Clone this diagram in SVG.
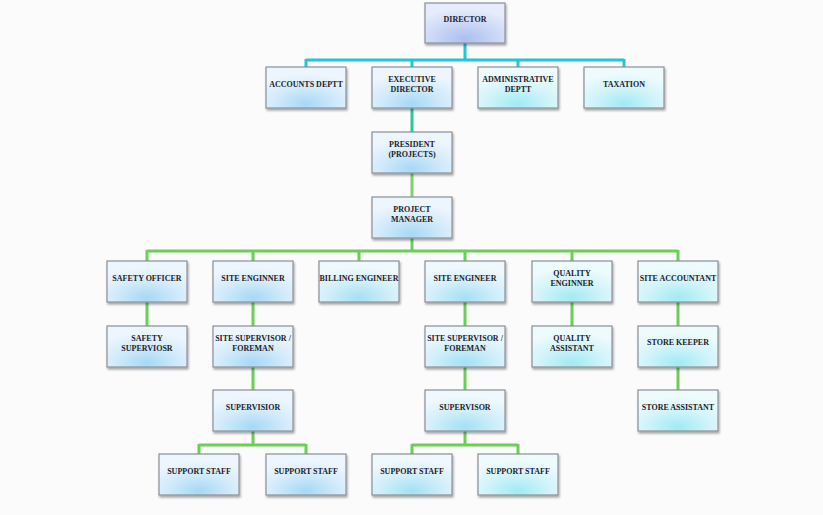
<svg xmlns="http://www.w3.org/2000/svg" width="823" height="515" viewBox="0 0 823 515">
<defs>
<radialGradient id="gBlue" cx="50%" cy="90%" r="75%" fx="50%" fy="90%">
<stop offset="0" stop-color="#a6d8f6"/>
<stop offset="0.55" stop-color="#d3ebfb"/>
<stop offset="1" stop-color="#eef6fd"/>
</radialGradient>
<radialGradient id="gCyan" cx="50%" cy="90%" r="75%" fx="50%" fy="90%">
<stop offset="0" stop-color="#a2eaf4"/>
<stop offset="0.55" stop-color="#d2f4fa"/>
<stop offset="1" stop-color="#eefbfd"/>
</radialGradient>
<radialGradient id="gMid" cx="50%" cy="90%" r="75%" fx="50%" fy="90%">
<stop offset="0" stop-color="#a4e0f5"/>
<stop offset="0.55" stop-color="#d2effa"/>
<stop offset="1" stop-color="#eef8fd"/>
</radialGradient>
<radialGradient id="gLav" cx="50%" cy="90%" r="75%" fx="50%" fy="90%">
<stop offset="0" stop-color="#a9c0f0"/>
<stop offset="0.55" stop-color="#ccd8f6"/>
<stop offset="1" stop-color="#e6ecfb"/>
</radialGradient>
<filter id="sh" x="-10%" y="-10%" width="130%" height="140%">
<feDropShadow dx="1" dy="2" stdDeviation="1.2" flood-color="#000" flood-opacity="0.35"/>
</filter>
</defs>
<style>
.n rect{stroke:#8a8f96;stroke-width:1.2;filter:url(#sh)}
.b rect{fill:url(#gBlue)}
.c rect{fill:url(#gCyan)}
.m rect{fill:url(#gMid)}
.l rect{fill:url(#gLav)}
.n text{font-family:"Liberation Serif","Times New Roman",serif;font-weight:bold;font-size:8px;fill:#1c1c2c;text-anchor:middle}
.cn path{fill:none;stroke-width:3}
.cy{stroke:#1fc8d4}
.tg{stroke:#2cc894}
.lg{stroke:#80d070}
.gr{stroke:#6ccd58}
</style>
<rect width="823" height="515" fill="#fbfbfb"/>
<g id="connectors" class="cn">
<path class="cy" d="M465,43V60M306,60H624M306,59V67M412,59V67M518,59V67M624,59V67"/>
<path class="tg" d="M412,108V132"/>
<path class="lg" d="M412,173V197"/>
<path class="gr" d="M412,238V251M147,251H678M147,250V261M253,250V261M359,250V261M465,250V261M572,250V261M678,250V261"/>
<path class="gr" d="M147,302V326M253,302V326M465,302V326M572,302V326M678,302V326"/>
<path class="gr" d="M253,367V390M465,367V390M678,367V390"/>
<path class="gr" d="M253,431V445M199,445H306M199,444V454M306,444V454"/>
<path class="gr" d="M465,431V445M412,445H518M412,444V454M518,444V454"/>
</g>
<g id="director" class="n l"><rect x="425" y="3" width="80" height="40"/><text x="465" y="22">DIRECTOR</text></g>
<g id="accounts" class="n b"><rect x="266" y="67" width="80" height="41"/><text x="306" y="87">ACCOUNTS DEPTT</text></g>
<g id="exec-director" class="n b"><rect x="372" y="67" width="80" height="41"/><text x="412" y="82">EXECUTIVE</text><text x="412" y="92">DIRECTOR</text></g>
<g id="admin" class="n c"><rect x="478" y="67" width="80" height="41"/><text x="518" y="82">ADMINISTRATIVE</text><text x="518" y="92">DEPTT</text></g>
<g id="taxation" class="n c"><rect x="584" y="67" width="80" height="41"/><text x="624" y="87">TAXATION</text></g>
<g id="president" class="n b"><rect x="372" y="132" width="80" height="41"/><text x="412" y="147">PRESIDENT</text><text x="412" y="157">(PROJECTS)</text></g>
<g id="project-manager" class="n b"><rect x="372" y="197" width="80" height="41"/><text x="412" y="212">PROJECT</text><text x="412" y="222">MANAGER</text></g>
<g id="safety-officer" class="n b"><rect x="107" y="261" width="80" height="41"/><text x="147" y="281">SAFETY OFFICER</text></g>
<g id="site-enginner" class="n b"><rect x="213" y="261" width="80" height="41"/><text x="253" y="281">SITE ENGINNER</text></g>
<g id="billing-engineer" class="n m"><rect x="319" y="261" width="80" height="41"/><text x="359" y="281">BILLING ENGINEER</text></g>
<g id="site-engineer" class="n m"><rect x="425" y="261" width="80" height="41"/><text x="465" y="281">SITE ENGINEER</text></g>
<g id="quality-enginner" class="n c"><rect x="532" y="261" width="80" height="41"/><text x="572" y="276">QUALITY</text><text x="572" y="286">ENGINNER</text></g>
<g id="site-accountant" class="n c"><rect x="638" y="261" width="80" height="41"/><text x="678" y="281">SITE ACCOUNTANT</text></g>
<g id="safety-supervisor" class="n b"><rect x="107" y="326" width="80" height="41"/><text x="147" y="341">SAFETY</text><text x="147" y="351">SUPERVIOSR</text></g>
<g id="site-supervisor-1" class="n b"><rect x="213" y="326" width="80" height="41"/><text x="253" y="341">SITE SUPERVISOR /</text><text x="253" y="351">FOREMAN</text></g>
<g id="site-supervisor-2" class="n m"><rect x="425" y="326" width="80" height="41"/><text x="465" y="341">SITE SUPERVISOR /</text><text x="465" y="351">FOREMAN</text></g>
<g id="quality-assistant" class="n c"><rect x="532" y="326" width="80" height="41"/><text x="572" y="341">QUALITY</text><text x="572" y="351">ASSISTANT</text></g>
<g id="store-keeper" class="n c"><rect x="638" y="326" width="80" height="41"/><text x="678" y="345">STORE KEEPER</text></g>
<g id="supervisior" class="n b"><rect x="213" y="390" width="80" height="41"/><text x="253" y="410">SUPERVISIOR</text></g>
<g id="supervisor" class="n m"><rect x="425" y="390" width="80" height="41"/><text x="465" y="410">SUPERVISOR</text></g>
<g id="store-assistant" class="n c"><rect x="638" y="390" width="80" height="41"/><text x="678" y="410">STORE ASSISTANT</text></g>
<g id="support-staff-1" class="n b"><rect x="159" y="454" width="80" height="41"/><text x="199" y="474">SUPPORT STAFF</text></g>
<g id="support-staff-2" class="n b"><rect x="266" y="454" width="80" height="41"/><text x="306" y="474">SUPPORT STAFF</text></g>
<g id="support-staff-3" class="n m"><rect x="372" y="454" width="80" height="41"/><text x="412" y="474">SUPPORT STAFF</text></g>
<g id="support-staff-4" class="n c"><rect x="478" y="454" width="80" height="41"/><text x="518" y="474">SUPPORT STAFF</text></g>
</svg>
